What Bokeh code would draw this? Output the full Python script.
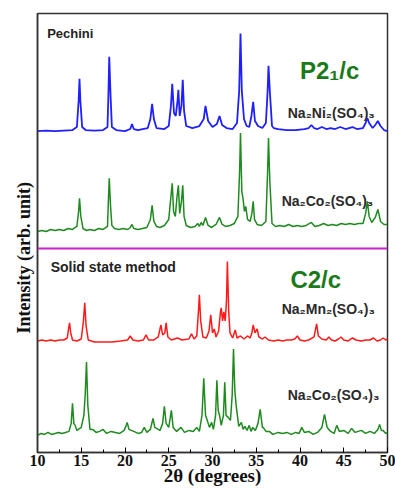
from bokeh.plotting import figure
from bokeh.models import Span, SingleIntervalTicker, FixedTicker, Range1d
from bokeh.core.properties import value
from bokeh.embed import file_html
from bokeh.resources import INLINE

# ---- data: 2theta (deg) and relative intensity above each pattern's baseline ----
ni_p_x = [10.0, 11.0, 12.0, 13.0, 14.0, 14.5, 14.7, 14.8, 14.9, 15.1, 15.5, 16.5, 17.5, 18.0, 18.1, 18.2, 18.35, 18.5,
          19.0, 20.0, 20.6, 20.8, 21.0, 21.5, 22.0, 22.6, 22.9, 23.1, 23.3, 23.6, 24.5, 25.0, 25.25, 25.4, 25.6, 25.8,
          26.0, 26.1, 26.25, 26.45, 26.6, 26.75, 27.0, 27.7, 28.5, 29.0, 29.2, 29.5, 30.0, 30.5, 30.8, 31.1, 31.6, 32.3,
          32.8, 33.05, 33.2, 33.35, 33.6, 33.9, 34.2, 34.45, 34.65, 34.85, 35.0, 35.2, 35.7, 36.1, 36.3, 36.4, 36.55,
          36.8, 37.0, 37.5, 38.5, 39.5, 40.5, 41.0, 41.3, 41.6, 42.0, 42.5, 43.0, 43.5, 44.0, 44.6, 45.2, 45.6, 46.0,
          46.5, 47.2, 47.5, 47.7, 47.9, 48.3, 48.6, 48.9, 49.2, 49.6, 50.0]
ni_p_y = [0, 0.5, 0, 0.5, 1, 4, 30, 52, 30, 4, 1, 0.5, 1, 4, 35, 74, 35, 4,
          1, 0, 2, 7, 2, 1, 2, 3, 12, 27, 12, 3, 2, 5, 25, 47, 18, 15,
          30, 41, 15, 25, 51, 20, 5, 3, 5, 12, 25, 10, 4, 7, 15, 6, 3, 2,
          8, 40, 97, 40, 12, 5, 4, 15, 29, 10, 8, 5, 3, 8, 40, 65, 40,
          5, 3, 2, 1, 1, 2, 3, 6, 3, 2, 4, 2, 3, 2, 4, 2, 3, 4,
          2, 3, 8, 13, 8, 3, 6, 10, 5, 1, 0]

co_p_x = [10.0, 10.5, 11.0, 11.5, 12.0, 12.5, 13.0, 13.5, 14.0, 14.5, 14.7, 14.8, 14.95, 15.2, 15.6, 16.0, 16.5, 17.0,
          17.5, 18.0, 18.1, 18.2, 18.35, 18.5, 18.8, 19.3, 19.8, 20.3, 20.6, 20.8, 21.0, 21.5, 22.0, 22.5, 22.9, 23.1,
          23.3, 23.6, 24.0, 24.5, 25.0, 25.25, 25.4, 25.55, 25.75, 25.95, 26.1, 26.25, 26.45, 26.6, 26.75, 27.0, 27.5,
          28.0, 28.3, 28.5, 28.7, 28.9, 29.2, 29.5, 29.9, 30.4, 30.8, 31.1, 31.5, 32.0, 32.5, 32.9, 33.1, 33.2, 33.35,
          33.5, 33.65, 33.8, 34.0, 34.3, 34.5, 34.65, 34.8, 35.1, 35.6, 36.1, 36.3, 36.4, 36.55, 36.8, 37.2, 37.7, 38.2,
          38.7, 39.2, 39.7, 40.2, 40.7, 41.3, 41.7, 42.2, 42.7, 43.2, 43.7, 44.2, 44.7, 45.2, 45.7, 46.2, 46.7, 47.2,
          47.5, 47.7, 47.9, 48.2, 48.6, 48.9, 49.2, 49.6, 50.0]
co_p_y = [0, 1, 0, 2, 1, 2, 1, 3, 2, 5, 20, 33, 15, 3, 1, 2, 1, 3,
          2, 5, 30, 53, 25, 6, 3, 2, 3, 2, 4, 7, 3, 2, 3, 4, 12, 26,
          10, 5, 4, 6, 12, 35, 48, 20, 15, 35, 46, 18, 30, 46, 15, 6, 4,
          5, 8, 5, 9, 6, 14, 6, 4, 7, 14, 7, 5, 6, 8, 15, 60, 98, 40,
          32, 20, 25, 12, 10, 18, 30, 12, 7, 6, 10, 60, 93, 50, 8, 5, 6, 5,
          7, 5, 6, 5, 6, 9, 5, 6, 8, 6, 7, 6, 8, 7, 8, 7, 8, 8,
          18, 30, 15, 9, 14, 22, 10, 7, 7]

mn_s_x = [10.0, 10.5, 11.0, 11.5, 12.0, 12.5, 13.0, 13.4, 13.55, 13.66, 13.8, 14.0, 14.5, 15.0, 15.25, 15.4, 15.55, 15.8,
          16.5, 17.5, 18.5, 19.5, 20.3, 20.6, 20.9, 21.5, 22.1, 22.4, 22.7, 23.3, 23.8, 24.1, 24.3, 24.55, 24.7, 24.9,
          25.3, 26.0, 26.5, 27.3, 27.6, 27.9, 28.2, 28.4, 28.5, 28.65, 28.9, 29.3, 29.6, 29.8, 30.0, 30.2, 30.4, 30.7,
          30.9, 31.0, 31.15, 31.3, 31.45, 31.6, 31.7, 31.85, 32.0, 32.3, 32.6, 32.8, 33.2, 33.6, 34.0, 34.3, 34.5, 34.65,
          34.85, 35.1, 35.3, 35.7, 36.0, 36.4, 37.0, 37.5, 38.0, 38.5, 39.0, 39.4, 39.7, 40.0, 40.5, 41.0, 41.6, 41.9,
          42.1, 42.5, 43.0, 43.3, 43.6, 44.0, 44.4, 44.7, 45.0, 45.5, 46.0, 46.4, 47.0, 47.5, 48.0, 48.4, 48.8, 49.2,
          49.5, 49.8, 50.0]
mn_s_y = [0, 1, 0, 1, 0, 1, 1, 3, 12, 18, 8, 1, 0, 2, 20, 38, 15, 1,
          -1, -1, -1, 0, 1, 5, 1, 0, 1, 6, 1, 1, 4, 16, 6, 8, 18, 4,
          1, 3, 1, 2, 7, 2, 5, 30, 46, 20, 4, 3, 10, 26, 8, 12, 4, 10,
          28, 33, 20, 29, 20, 40, 79, 30, 8, 3, 11, 3, 5, 2, 5, 3, 8, 16,
          8, 12, 4, 2, 4, 1, 0, 1, 0, 1, 1, 2, 5, 1, 0, 1, 4, 17,
          5, 2, 1, 4, 1, 0, 2, 4, 1, 0, 3, 1, 0, 1, 1, 3, 0, 1,
          3, 1, 2]

co_s_x = [10.0, 10.4, 10.8, 11.2, 11.6, 12.0, 12.4, 12.8, 13.2, 13.6, 13.85, 14.0, 14.15, 14.3, 14.5, 15.0, 15.3, 15.45,
          15.6, 15.75, 16.0, 16.3, 16.7, 17.1, 17.5, 17.9, 18.4, 18.9, 19.4, 19.9, 20.1, 20.25, 20.45, 21.0, 21.5, 21.9,
          22.2, 22.5, 22.9, 23.2, 23.4, 23.6, 24.0, 24.3, 24.5, 24.7, 25.0, 25.3, 25.5, 25.9, 26.4, 26.8, 27.3, 27.8,
          28.2, 28.5, 28.8, 29.0, 29.2, 29.4, 29.65, 29.9, 30.1, 30.35, 30.5, 30.65, 30.8, 31.0, 31.25, 31.4, 31.55,
          31.8, 32.05, 32.25, 32.4, 32.55, 32.7, 33.0, 33.3, 33.5, 33.7, 33.95, 34.2, 34.4, 34.6, 34.9, 35.2, 35.45, 35.7,
          35.8, 36.1, 36.5, 36.9, 37.5, 38.0, 38.5, 39.0, 39.5, 39.9, 40.2, 40.5, 41.0, 41.5, 42.0, 42.5, 42.8, 43.1,
          43.5, 43.9, 44.2, 44.5, 45.0, 45.5, 45.9, 46.3, 47.0, 47.5, 48.0, 48.5, 48.9, 49.1, 49.3, 49.5, 49.8, 50.0]
co_s_y = [0, 2, 1, 3, 1, 2, 3, 2, 3, 4, 12, 32, 12, 10, 5, 8, 20, 40,
          73, 30, 6, 6, 3, 4, 6, 2, 4, 3, 2, 5, 9, 13, 6, 4, 2, 3,
          8, 3, 6, 17, 8, 7, 5, 12, 29, 12, 8, 25, 8, 4, 8, 3, 5, 4,
          8, 4, 20, 57, 20, 15, 8, 13, 6, 20, 55, 25, 20, 10, 20, 53, 20,
          18, 15, 40, 86, 45, 30, 9, 13, 6, 9, 5, 10, 4, 8, 5, 12, 26, 8,
          8, 4, 4, 1, 3, 2, 3, 1, 3, 2, 8, 3, 4, 1, 3, 8, 21, 8,
          4, 2, 10, 4, 5, 2, 7, 3, 5, 2, 4, 2, 6, 11, 5, 5, 2, 3]

# stacking offsets for each pattern (arb. units)
offset_ni_p = 320
offset_co_p = 220
offset_mn_s = 111
offset_co_s = 17
separator_level = 203

x_title = "2θ (degrees)"
y_title = "Intensity (arb. unit)"

p = figure(width=395, height=488, output_backend="svg", toolbar_location=None,
           x_range=Range1d(10, 50), y_range=Range1d(0, 437),
           min_border_left=37, min_border_right=8, min_border_top=13, min_border_bottom=35)
p.background_fill_color = "white"
p.border_fill_color = "white"
p.grid.visible = False
p.outline_line_color = "#333333"
p.outline_line_width = 1.5

p.line(ni_p_x, [v + offset_ni_p for v in ni_p_y], line_color="#1f1fff", line_width=1.8)
p.line(co_p_x, [v + offset_co_p for v in co_p_y], line_color="#1f8a1f", line_width=1.5)
p.line(mn_s_x, [v + offset_mn_s for v in mn_s_y], line_color="#ff1a1a", line_width=1.5)
p.line(co_s_x, [v + offset_co_s for v in co_s_y], line_color="#1f8a1f", line_width=1.5)

p.add_layout(Span(location=separator_level, dimension="width", line_color="#cc22cc", line_width=2))

sans = value("Liberation Sans")
p.text(x=[11.1], y=[417], text=["Pechini"], text_font=sans, text_font_size="13px",
       text_font_style="bold", text_color="#222222", text_baseline="middle")
p.text(x=[11.5], y=[185], text=["Solid state method"], text_font=sans, text_font_size="14px",
       text_font_style="bold", text_color="#222222", text_baseline="middle")
p.text(x=[40.0], y=[380], text=["P2₁/c"], text_font=sans, text_font_size="24px",
       text_font_style="bold", text_color="#1a7a1a", text_baseline="middle")
p.text(x=[38.9], y=[172], text=["C2/c"], text_font=sans, text_font_size="24px",
       text_font_style="bold", text_color="#1a7a1a", text_baseline="middle")
p.text(x=[38.6, 37.9, 37.9, 38.6], y=[338, 250, 143, 57],
       text=["Na₂Ni₂(SO₄)₃", "Na₂Co₂(SO₄)₃", "Na₂Mn₂(SO₄)₃", "Na₂Co₂(SO₄)₃"],
       text_font=sans, text_font_size="14px", text_font_style="bold",
       text_color="#2a2a2a", text_baseline="middle")

xa = p.xaxis[0]
xa.ticker = SingleIntervalTicker(interval=5, num_minor_ticks=2)
xa.major_tick_in = 5
xa.major_tick_out = 0
xa.minor_tick_in = 3
xa.minor_tick_out = 0
xa.axis_line_width = 1.5
xa.axis_line_color = "#333333"
xa.major_label_text_font = "Liberation Serif"
xa.major_label_text_font_style = "bold"
xa.major_label_text_font_size = "16px"
xa.major_label_text_color = "#111111"
xa.major_label_standoff = 2
xa.axis_label = x_title
xa.axis_label_text_font = "Liberation Serif"
xa.axis_label_text_font_style = "bold"
xa.axis_label_text_font_size = "19px"
xa.axis_label_text_color = "#111111"
xa.axis_label_standoff = -4

ya = p.yaxis[0]
ya.ticker = FixedTicker(ticks=[])
ya.major_tick_line_color = None
ya.minor_tick_line_color = None
ya.axis_line_width = 1.5
ya.axis_line_color = "#333333"
ya.axis_label = y_title + "\u00a0" * 11
ya.axis_label_text_font = "Liberation Serif"
ya.axis_label_text_font_style = "bold"
ya.axis_label_text_font_size = "18px"
ya.axis_label_text_color = "#111111"
ya.axis_label_standoff = 4

open("out.html", "w").write(file_html(p, INLINE))
